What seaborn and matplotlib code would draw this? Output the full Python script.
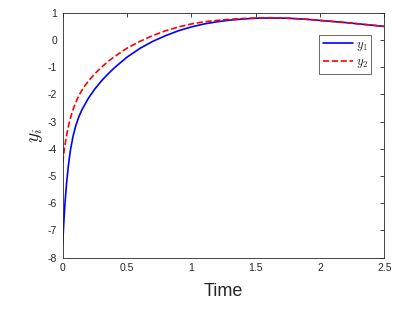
import numpy as np
import pandas as pd
import matplotlib
matplotlib.use('Agg')
import matplotlib.pyplot as plt
import seaborn as sns

# values
t1 = [0, 0.01, 0.02, 0.03, 0.045, 0.06, 0.08, 0.1, 0.125, 0.15, 0.2, 0.25, 0.3,
      0.35, 0.4, 0.5, 0.6, 0.7, 0.8, 0.9, 1.0, 1.1, 1.2, 1.3, 1.4, 1.5, 1.6,
      1.75, 1.9, 2.0, 2.2, 2.35, 2.5]
y1 = [-7.50, -6.60, -5.87, -5.28, -4.59, -4.06, -3.55, -3.18, -2.83, -2.56, -2.14,
      -1.80, -1.51, -1.26, -1.03, -0.63, -0.31, -0.05, 0.16, 0.34, 0.48, 0.59, 0.67,
      0.73, 0.77, 0.80, 0.81, 0.80, 0.76, 0.72, 0.64, 0.57, 0.50]
t2 = [0, 0.01, 0.02, 0.035, 0.05, 0.07, 0.09, 0.115, 0.14, 0.17, 0.2, 0.25, 0.3,
      0.35, 0.4, 0.5, 0.6, 0.7, 0.8, 0.9, 1.0, 1.1, 1.2, 1.3, 1.4, 1.5, 1.6,
      1.75, 1.9, 2.0, 2.2, 2.35, 2.5]
y2 = [-4.50, -4.12, -3.80, -3.39, -3.06, -2.71, -2.43, -2.15, -1.92, -1.70, -1.51,
      -1.24, -1.01, -0.80, -0.62, -0.30, -0.05, 0.16, 0.34, 0.48, 0.59, 0.67, 0.72,
      0.76, 0.79, 0.81, 0.82, 0.80, 0.76, 0.72, 0.64, 0.57, 0.50]

sns.set_style('white')
plt.rcParams['font.family'] = ['Liberation Sans', 'DejaVu Sans']
plt.rcParams['axes.unicode_minus'] = False
plt.rcParams['mathtext.fontset'] = 'cm'

fig = plt.figure(figsize=(4.15, 3.12), dpi=100)
ax = fig.add_axes([0.151, 0.174, 0.775, 0.785])

sns.lineplot(x=t1, y=y1, ax=ax, color='#0000ff', linewidth=1.2, label='$y_1$')
sns.lineplot(x=t2, y=y2, ax=ax, color='#ff0000', linewidth=1.2, linestyle='--',
             dashes=(3, 2), label='$y_2$')

ax.set_xlim(0, 2.5)
ax.set_ylim(-8, 1)
ax.set_xticks([0, 0.5, 1, 1.5, 2, 2.5])
ax.set_xticklabels(['0', '0.5', '1', '1.5', '2', '2.5'])
ax.set_yticks(range(-8, 2))
ax.tick_params(direction='in', length=3, width=0.6, labelsize=7.5, colors='#262626',
               top=True, right=True, pad=4)
for s in ax.spines.values():
    s.set_color('#262626')
    s.set_linewidth(0.6)

ax.set_xlabel('Time', fontsize=13, color='#262626', labelpad=7)
ax.set_ylabel('$y_i$', fontsize=14, color='#262626', labelpad=2)

leg = ax.legend(loc='upper right', bbox_to_anchor=(0.96, 0.91), fontsize=9,
                frameon=True, fancybox=False, edgecolor='#262626',
                handlelength=2.4, borderpad=0.3, labelspacing=0.3, handletextpad=0.2,
                borderaxespad=0)
leg.get_frame().set_linewidth(0.6)

fig.savefig('out.png', dpi=100)
